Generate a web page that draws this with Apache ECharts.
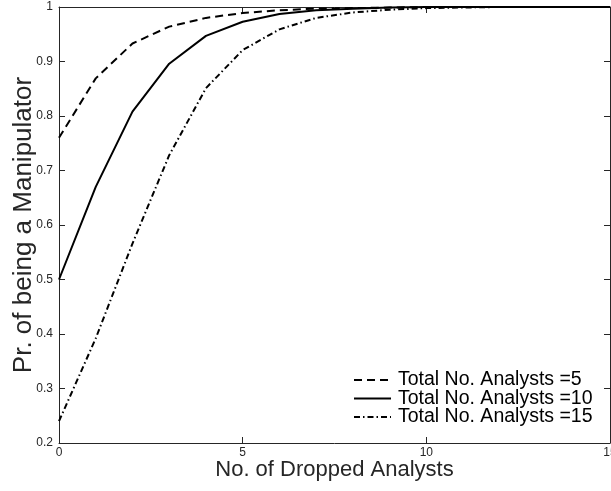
<!DOCTYPE html>
<html>
<head>
<meta charset="utf-8">
<style>
  html, body { margin: 0; padding: 0; background: #fff; }
  #chart { width: 611px; height: 491px; }
</style>
<script src="https://cdn.jsdelivr.net/npm/echarts@6/dist/echarts.min.js"></script>
</head>
<body>
<div id="chart"></div>
<script>
// Number of analysts dropped (x)
const dropped = [0, 1, 2, 3, 4, 5, 6, 7, 8, 9, 10, 11, 12, 13, 14, 15];

// Probability of being a manipulator, one array per total analyst count
const total5  = [0.76, 0.869, 0.933, 0.964, 0.980, 0.989, 0.994, 0.997, 0.998, 0.999, 1, 1, 1, 1, 1, 1];
const total10 = [0.50, 0.670, 0.808, 0.896, 0.947, 0.973, 0.987, 0.994, 0.997, 0.999, 1, 1, 1, 1, 1, 1];
const total15 = [0.24, 0.392, 0.566, 0.728, 0.851, 0.921, 0.959, 0.980, 0.990, 0.995, 0.998, 0.999, 1, 1, 1, 1];

const seriesNames = ['Total No. Analysts =5', 'Total No. Analysts =10', 'Total No. Analysts =15'];

const pair = (ys) => dropped.map((x, i) => [x, ys[i]]);

const font = 'Liberation Sans, Arial, Helvetica, sans-serif';
const axisColor = '#262626';

const chart = echarts.init(document.getElementById('chart'), null, { renderer: 'canvas' });

const lineSeries = (name, ys, dash) => ({
  name: name,
  type: 'line',
  data: pair(ys),
  showSymbol: false,
  symbol: 'none',
  clip: false,
  animation: false,
  color: '#000',
  lineStyle: { color: '#000', width: 2, type: dash }
});

const boxAxis = (extra) => Object.assign({
  type: 'value',
  axisLine: { show: true, onZero: false, lineStyle: { color: axisColor, width: 1 } },
  axisTick: { show: true, inside: true, length: 6, lineStyle: { color: axisColor } },
  splitLine: { show: false }
}, extra);

chart.setOption({
  animation: false,
  grid: { left: 59, right: 1, top: 7, bottom: 48, outerBoundsMode: 'none', containLabel: false },
  legend: {
    orient: 'vertical',
    left: 353,
    top: 370,
    padding: 0,
    itemWidth: 37,
    itemHeight: 15,
    itemGap: -1.5,
    itemStyle: { opacity: 0 },
    textStyle: { fontFamily: font, fontSize: 19.5, color: '#000', padding: [0, 0, 0, 2] },
    data: seriesNames
  },
  xAxis: [
    boxAxis({
      position: 'bottom',
      min: 0, max: 15, interval: 5,
      name: 'No. of Dropped Analysts',
      nameLocation: 'middle',
      nameGap: 16,
      nameMoveOverlap: false,
      nameTextStyle: { fontFamily: font, fontSize: 22, color: axisColor },
      axisLabel: { fontFamily: font, fontSize: 12, color: axisColor, margin: 4 }
    }),
    boxAxis({
      position: 'top',
      min: 0, max: 15, interval: 5,
      axisLabel: { show: false }
    })
  ],
  yAxis: [
    boxAxis({
      position: 'left',
      min: 0.2, max: 1, interval: 0.1,
      name: 'Pr. of being a Manipulator',
      nameLocation: 'middle',
      nameGap: 22,
      nameMoveOverlap: false,
      nameTextStyle: { fontFamily: font, fontSize: 26, color: axisColor },
      axisLabel: {
        fontFamily: font, fontSize: 12, color: axisColor, margin: 6,
        formatter: (v) => String(Math.round(v * 10) / 10)
      }
    }),
    boxAxis({
      position: 'right',
      min: 0.2, max: 1, interval: 0.1,
      axisLabel: { show: false }
    })
  ],
  series: [
    lineSeries(seriesNames[0], total5, [8, 5]),
    lineSeries(seriesNames[1], total10, 'solid'),
    lineSeries(seriesNames[2], total15, [6, 3, 1.5, 3])
  ]
});
</script>
</body>
</html>
